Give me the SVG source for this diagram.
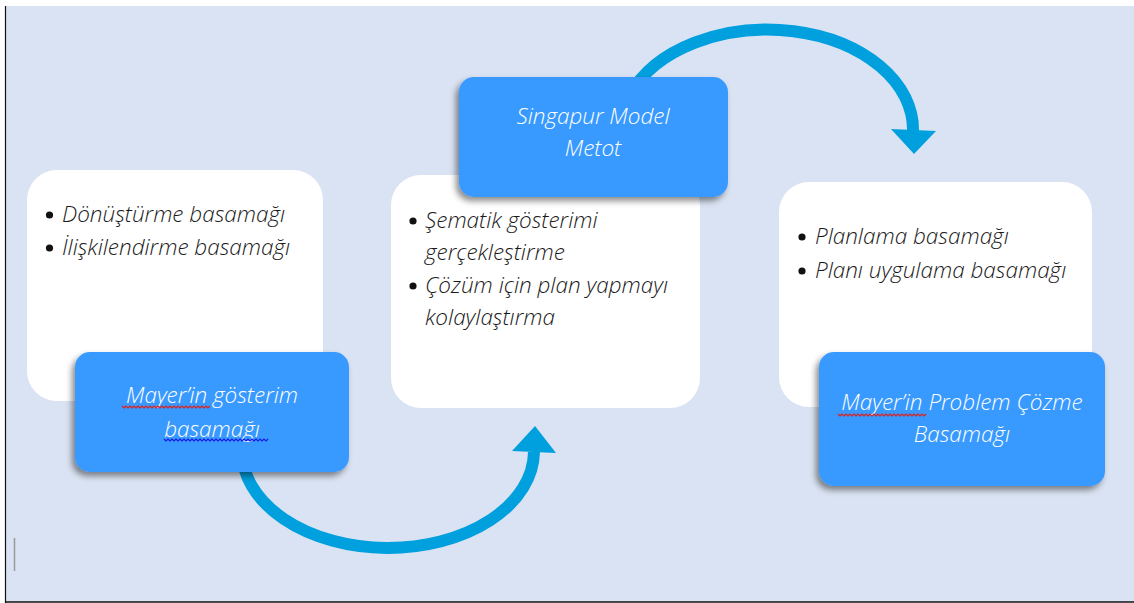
<svg xmlns="http://www.w3.org/2000/svg" width="1134" height="603" viewBox="0 0 1134 603">
  <defs>
    <style>
      .bg { fill: #DAE3F3; }
      .card { fill: #FFFFFF; }
      .head { fill: #3999FE; filter: url(#shadow); }
      .txt { font-family: "Open Sans", "Noto Sans", "DejaVu Sans", sans-serif; font-style: italic; font-weight: 300; font-size: 22.5px; fill: #1A1A1A; }
      .htxt { font-family: "Open Sans", "Noto Sans", "DejaVu Sans", sans-serif; font-style: italic; font-weight: 300; font-size: 22.5px; fill: #FFFFFF; text-anchor: middle; }
      .dot { fill: #111111; }
      .arc { fill: none; stroke: #009FDE; stroke-width: 12; }
      .head-arrow { fill: #009FDE; }
      .sqr { fill: none; stroke: #E0201B; stroke-width: 1.2; }
      .sqb { fill: none; stroke: #1A1AE0; stroke-width: 1.2; }
    </style>
    <filter id="shadow" x="-10%" y="-15%" width="120%" height="140%">
      <feDropShadow dx="-3" dy="4" stdDeviation="3" flood-color="#000" flood-opacity="0.45"/>
    </filter>
  </defs>

  <rect x="0" y="0" width="1134" height="603" fill="#FFFFFF"/>
  <rect class="bg" x="5" y="6" width="1129" height="596"/>
  <line x1="5.5" y1="6" x2="5.5" y2="603" stroke="#111" stroke-width="1.2"/>
  <line x1="5" y1="602" x2="1134" y2="602" stroke="#111" stroke-width="1.5"/>
  <line x1="14.5" y1="538" x2="14.5" y2="571" stroke="#9A9A9A" stroke-width="1.5"/>

  <g id="connectors">
    <path class="arc" d="M 242 450 A 146 97 0 0 0 534 452"/>
    <polygon class="head-arrow" points="512,451 556,453 535,426"/>
    <path class="arc" d="M 630 95 A 146 100 0 0 1 913 131"/>
    <polygon class="head-arrow" points="891,129 936,131 914,154"/>
  </g>

  <g id="card1">
    <rect class="card" x="27" y="170" width="296" height="231" rx="30"/>
    <circle class="dot" cx="49.5" cy="215" r="3.6"/>
    <circle class="dot" cx="49.5" cy="248" r="3.6"/>
    <text class="txt" x="62" y="222">Dönüştürme basamağı</text>
    <text class="txt" x="62" y="255">İlişkilendirme basamağı</text>
  </g>
  <g id="card2">
    <rect class="card" x="391" y="175" width="309" height="233" rx="30"/>
    <circle class="dot" cx="413" cy="221" r="3.6"/>
    <circle class="dot" cx="413" cy="286" r="3.6"/>
    <text class="txt" x="425" y="228">Şematik gösterimi</text>
    <text class="txt" x="425" y="260">gerçekleştirme</text>
    <text class="txt" x="425" y="293">Çözüm için plan yapmayı</text>
    <text class="txt" x="425" y="325">kolaylaştırma</text>
  </g>
  <g id="card3">
    <rect class="card" x="779" y="182" width="313" height="225" rx="30"/>
    <circle class="dot" cx="802" cy="237" r="3.6"/>
    <circle class="dot" cx="802" cy="271" r="3.6"/>
    <text class="txt" x="815" y="244">Planlama basamağı</text>
    <text class="txt" x="815" y="278">Planı uygulama basamağı</text>
  </g>

  <g id="head1">
    <rect class="head" x="75" y="352" width="274" height="120" rx="15"/>
    <text class="htxt" x="212" y="403">Mayer’in gösterim</text>
    <text class="htxt" x="212" y="437">basamağı</text>
    <path class="sqr" d="M122 406 l2 2 l2 -2 l2 2 l2 -2 l2 2 l2 -2 l2 2 l2 -2 l2 2 l2 -2 l2 2 l2 -2 l2 2 l2 -2 l2 2 l2 -2 l2 2 l2 -2 l2 2 l2 -2 l2 2 l2 -2 l2 2 l2 -2 l2 2 l2 -2 l2 2 l2 -2 l2 2 l2 -2 l2 2 l2 -2 l2 2 l2 -2 l2 2 l2 -2 l2 2 l2 -2 l2 2 l2 -2 l2 2 l2 -2 l2 2 l2 -2"/>
    <path class="sqb" d="M164 439 l2 2 l2 -2 l2 2 l2 -2 l2 2 l2 -2 l2 2 l2 -2 l2 2 l2 -2 l2 2 l2 -2 l2 2 l2 -2 l2 2 l2 -2 l2 2 l2 -2 l2 2 l2 -2 l2 2 l2 -2 l2 2 l2 -2 l2 2 l2 -2 l2 2 l2 -2 l2 2 l2 -2 l2 2 l2 -2 l2 2 l2 -2 l2 2 l2 -2 l2 2 l2 -2 l2 2 l2 -2 l2 2 l2 -2 l2 2 l2 -2 l2 2 l2 -2 l2 2 l2 -2 l2 2 l2 -2 l2 2 l2 -2"/>
  </g>
  <g id="head2">
    <rect class="head" x="459" y="77" width="269" height="120" rx="15"/>
    <text class="htxt" x="593" y="124">Singapur Model</text>
    <text class="htxt" x="593" y="156">Metot</text>
  </g>
  <g id="head3">
    <rect class="head" x="819" y="352" width="286" height="134" rx="15"/>
    <text class="htxt" x="962" y="410">Mayer’in Problem Çözme</text>
    <text class="htxt" x="962" y="442">Basamağı</text>
    <path class="sqr" d="M838 414 l2 2 l2 -2 l2 2 l2 -2 l2 2 l2 -2 l2 2 l2 -2 l2 2 l2 -2 l2 2 l2 -2 l2 2 l2 -2 l2 2 l2 -2 l2 2 l2 -2 l2 2 l2 -2 l2 2 l2 -2 l2 2 l2 -2 l2 2 l2 -2 l2 2 l2 -2 l2 2 l2 -2 l2 2 l2 -2 l2 2 l2 -2 l2 2 l2 -2 l2 2 l2 -2 l2 2 l2 -2 l2 2 l2 -2 l2 2 l2 -2"/>
  </g>
</svg>
